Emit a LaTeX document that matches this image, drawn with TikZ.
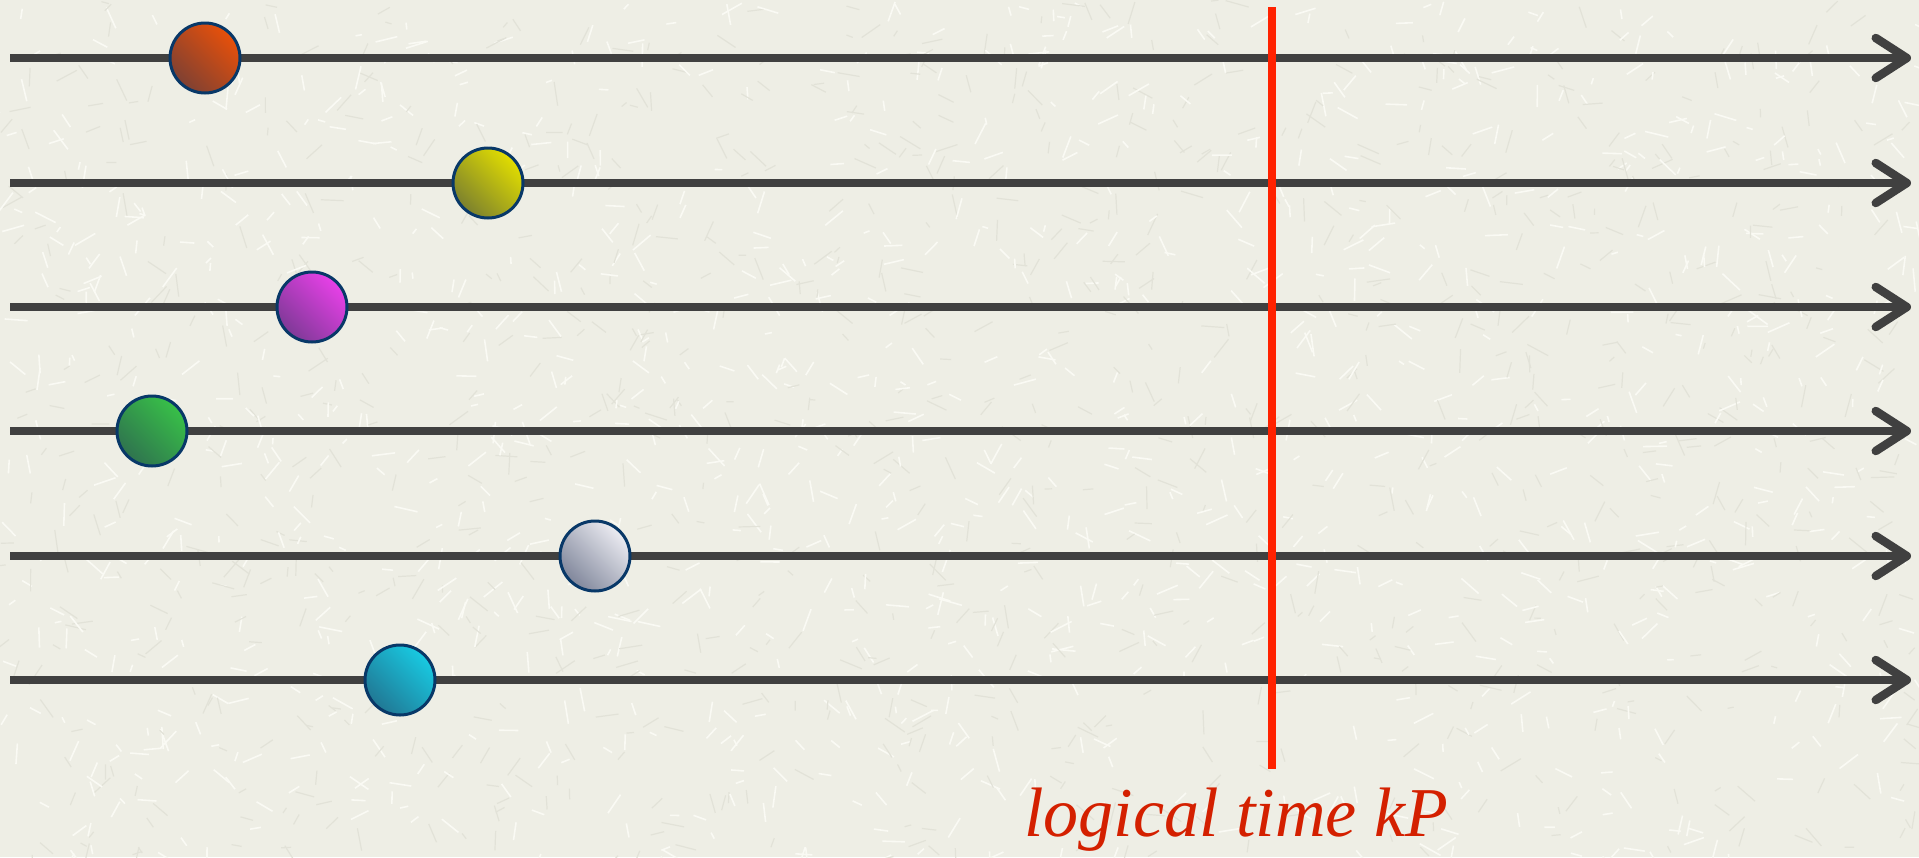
\documentclass[tikz,border=0pt]{standalone}
\usepackage{fontspec}
\setmainfont{Liberation Serif}
\usetikzlibrary{arrows.meta}
\definecolor{bg}{RGB}{238,238,229}
\definecolor{bgtex}{RGB}{250,250,244}
\definecolor{bgdark}{RGB}{226,226,216}
\definecolor{linegray}{RGB}{64,64,64}
\definecolor{navy}{RGB}{8,56,104}
\definecolor{redline}{RGB}{255,34,0}
\definecolor{redtext}{RGB}{212,32,0}
\definecolor{darkend}{RGB}{40,52,84}
\definecolor{corange}{RGB}{232,80,10}
\definecolor{cyellow}{RGB}{226,222,0}
\definecolor{cmagenta}{RGB}{232,64,232}
\definecolor{cgreen}{RGB}{56,192,72}
\definecolor{csilver}{RGB}{236,236,242}
\definecolor{ccyan}{RGB}{24,202,226}
\tikzset{
  timeline/.style={line width=8.5pt, draw=linegray, -{Straight Barb[length=31pt, width=40pt, round, line width=8.5pt]}},
  ball/.style={circle, inner sep=0pt, minimum size=70pt, draw=navy, line width=3pt, top color=#1, bottom color=#1!45!darkend, shading angle=-45},
  nowline/.style={line width=8pt, draw=redline},
  label/.style={font=\itshape\fontsize{70pt}{70pt}\selectfont, text=redtext, inner sep=0pt}
}
\begin{document}
\begin{tikzpicture}[x=1pt, y=-1pt]
\fill[bg] (0,0) rectangle (1919,857);
\useasboundingbox (0,0) rectangle (1919,857);
% subtle texture
\pgfmathsetseed{7}
\foreach \i in {1,...,2200}{
  \pgfmathsetmacro{\xx}{rnd*1919}
  \pgfmathsetmacro{\yy}{rnd*857}
  \pgfmathsetmacro{\aa}{rnd*180}
  \pgfmathsetmacro{\ll}{6+rnd*18}
  \pgfmathsetmacro{\cc}{rnd}
  \ifdim\cc pt<0.55pt
    \draw[bgtex, line width=1.6pt] (\xx,\yy) -- ++(\aa:\ll);
  \else
    \draw[bgdark, line width=1.2pt] (\xx,\yy) -- ++(\aa:\ll);
  \fi
}
% timelines
\foreach \k/\y in {1/58, 2/183, 3/307, 4/431, 5/556, 6/680}{
  \coordinate (s\k) at (10,\y);
  \coordinate (e\k) at (1911,\y);
  \draw[timeline] (s\k) -- (e\k);
}
% red line
\coordinate (rtop) at (1272,7);
\coordinate (rbot) at (1272,769);
\draw[nowline] (rtop) -- (rbot);
% events
\node[ball=corange] (b1) at (205,58) {};
\node[ball=cyellow] (b2) at (488,183) {};
\node[ball=cmagenta] (b3) at (312,307) {};
\node[ball=cgreen] (b4) at (152,431) {};
\node[ball=csilver] (b5) at (595,556) {};
\node[ball=ccyan] (b6) at (400,680) {};
% label
\node[label, anchor=base] (lbl) at (1236,836) {logical time kP};
\end{tikzpicture}
\end{document}
